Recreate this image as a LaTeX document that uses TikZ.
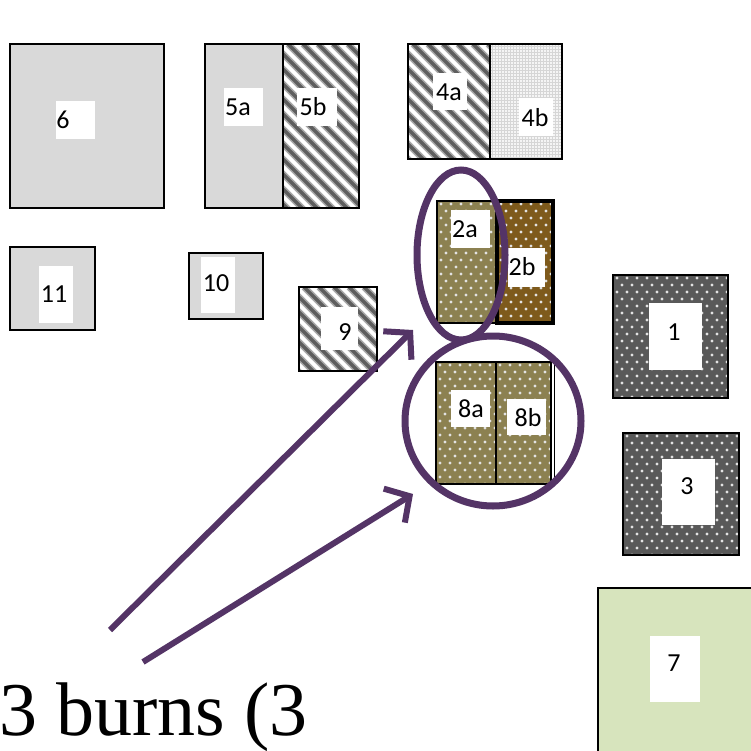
\documentclass[tikz,border=0pt]{standalone}
\usepackage{fontspec}
\newfontfamily\lblfont{Carlito}
\newfontfamily\capfont{Liberation Serif}
\usetikzlibrary{shapes.geometric,arrows.meta}

\definecolor{lightgrey}{HTML}{D9D9D9}
\definecolor{darkgrey}{HTML}{595959}
\definecolor{olive}{HTML}{8C8151}
\definecolor{brown}{HTML}{7E5A1C}
\definecolor{palegreen}{HTML}{D7E4BD}
\definecolor{ringpurple}{HTML}{543466}
\definecolor{stripecol}{HTML}{5E5E5E}
\definecolor{dotcol}{HTML}{E2E2E2}

\tikzset{
  plot/.style={draw=black, line width=1.4pt},
  lbl/.style={font=\lblfont\fontsize{26}{26}\selectfont, inner sep=0pt},
  ring/.style={draw=ringpurple, line width=7pt, ellipse, inner sep=0pt},
  pointer/.style={draw=ringpurple, line width=6pt,
    -{Straight Barb[length=18pt,width=40pt,line width=6pt]}},
}

% white dots on a staggered grid, clipped to a rectangle
\newcommand\dotgrid[4]{%
  \begin{scope}
    \clip (#1,#2) rectangle (#3,#4);
    \pgfmathtruncatemacro\nx{(#3-#1)/10+1}
    \pgfmathtruncatemacro\ny{(#4-#2)/7+1}
    \foreach \j in {0,...,\ny}{
      \foreach \i in {0,...,\nx}{
        \fill[dotcol] ({#1+4+10*\i+5*mod(\j,2)},{#2+3+7*\j}) circle (1.7pt);
      }}
  \end{scope}}

% diagonal stripes running down to the right, clipped to a rectangle
\newcommand\stripes[4]{%
  \begin{scope}
    \clip (#1,#2) rectangle (#3,#4);
    \foreach \k in {-190,-175,...,120}{
      \draw[stripecol!55, line width=6.5pt] ({#1+\k},#2) -- ++(260,260);
      \draw[stripecol, line width=3.5pt] ({#1+\k},#2) -- ++(260,260);
    }
  \end{scope}}

% fine light checker
\newcommand\checkfill[4]{%
  \begin{scope}
    \clip (#1,#2) rectangle (#3,#4);
    \fill[gray!32] (#1,#2) rectangle (#3,#4);
    \pgfmathtruncatemacro\nx{(#3-#1)/3+1}
    \pgfmathtruncatemacro\ny{(#4-#2)/3+1}
    \foreach \j in {0,...,\ny}{
      \foreach \i in {0,...,\nx}{
        \fill[gray!8] ({#1+3*\i},{#2+3*\j}) rectangle ++(1.6,1.6);
      }}
  \end{scope}}

\begin{document}
\begin{tikzpicture}[x=1pt,y=-1pt]
\useasboundingbox (0,0) rectangle (750,751);
\fill[white] (0,0) rectangle (750,751);

% --- plain grey plots
\fill[lightgrey] (10,44) rectangle (164,208);
\draw[plot] (10,44) rectangle (164,208);
\fill[lightgrey] (205,44) rectangle (283,208);
\draw[plot] (205,44) rectangle (283,208);
\fill[lightgrey] (10,247) rectangle (95,330);
\draw[plot] (10,247) rectangle (95,330);
\fill[lightgrey] (189,253) rectangle (263,319);
\draw[plot] (189,253) rectangle (263,319);

% --- striped plots
\stripes{283}{44}{359}{208}
\draw[plot] (283,44) rectangle (359,208);
\stripes{408}{44}{490}{159}
\draw[plot] (408,44) rectangle (490,159);
\stripes{299}{287}{377}{371}
\draw[plot, line width=2pt] (299,287) rectangle (377,371);

% --- checkered plot
\checkfill{490}{44}{562}{159}
\draw[plot] (490,44) rectangle (562,159);

% --- dotted plots
\fill[olive] (437,201) rectangle (497,323);
\dotgrid{437}{201}{497}{323}
\fill[brown] (497,201) rectangle (553,323);
\dotgrid{497}{201}{553}{323}
\draw[plot] (437,201) rectangle (497,323);
\draw[draw=black, line width=3.5pt] (497,201) rectangle (553,323);

\fill[olive] (436,362) rectangle (551,484);
\dotgrid{436}{362}{551}{484}
\draw[plot] (436,362) rectangle (496,484);
\draw[plot] (496,362) rectangle (551,484);
\draw[black, line width=1pt] (554,364) -- (554,484);

\fill[darkgrey] (613,275) rectangle (728,398);
\dotgrid{613}{275}{728}{398}
\draw[plot] (613,275) rectangle (728,398);
\fill[darkgrey] (623,433) rectangle (739,555);
\dotgrid{623}{433}{739}{555}
\draw[plot] (623,433) rectangle (739,555);

% --- green plot
\fill[palegreen] (598,588) rectangle (752,753);
\draw[plot] (598,588) rectangle (752,753);

% --- white label patches
\foreach \a/\b/\c/\d in {56/101/95/139, 224/88/263/126, 297/88/337/126,
    433/73/467/110, 519/98/553/136, 451/210/490/248, 508/248/545/287,
    451/390/490/427, 507/399/546/435, 649/303/702/370, 662/459/715/525,
    39/266/73/323, 201/257/235/313, 321/307/358/350, 650/636/700/702}
  \fill[white] (\a,\b) rectangle (\c,\d);

% --- labels
\node[lbl] (t6)  at (63,120)  {6};
\node[lbl] (t5a) at (238,107) {5a};
\node[lbl] (t5b) at (313,107) {5b};
\node[lbl] (t4a) at (449,92)  {4a};
\node[lbl] (t4b) at (535,118) {4b};
\node[lbl] (t2a) at (465,229) {2a};
\node[lbl] (t2b) at (522,267) {2b};
\node[lbl] (t8a) at (471,409) {8a};
\node[lbl] (t8b) at (528,418) {8b};
\node[lbl] (t1)  at (674,332) {1};
\node[lbl] (t3)  at (687,486) {3};
\node[lbl] (t11) at (54,294)  {11};
\node[lbl] (t10) at (216,283) {10};
\node[lbl] (t9)  at (345,332) {9};
\node[lbl] (t7)  at (674,663) {7};

% --- highlight rings
\node[ring, minimum width=88pt, minimum height=170pt] (ringA) at (461,255) {};
\node[ring, minimum width=176pt, minimum height=170pt] (ringB) at (493,421) {};

% --- caption and pointers
\node[anchor=base west, inner sep=0pt, font=\capfont\fontsize{76}{76}\selectfont]
  (caption) at (-1,735) {3 burns (3};
\coordinate (fromA) at (110,630);
\coordinate (toA)   at (413,330);
\coordinate (fromB) at (143,662);
\coordinate (toB)   at (413,494);
\draw[pointer] (fromA) -- (toA);
\draw[pointer] (fromB) -- (toB);
\end{tikzpicture}
\end{document}
